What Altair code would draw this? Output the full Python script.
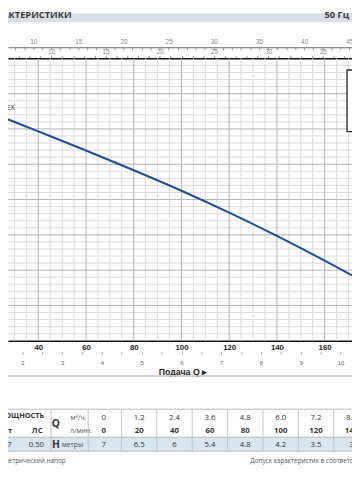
import altair as alt
import pandas as pd

# ---------------- data ----------------
curve_q = [0, 20, 24.0, 40, 60, 80, 100, 120, 140, 160, 171.5]
curve_h = [7.0, 6.47, 6.36, 5.93, 5.39, 4.83, 4.25, 3.63, 2.97, 2.27, 1.85]

table_q_lmin = [0, 20, 40, 60, 80, 100, 120, 140]
table_q_m3h = ["0", "1.2", "2.4", "3.6", "4.8", "6.0", "7.2", "8.4"]
table_q_lmin_txt = ["0", "20", "40", "60", "80", "100", "120", "140"]
table_h = ["7", "6.5", "6", "5.4", "4.8", "4.2", "3.5", "3"]
power_kw = "0.37"
power_hp = "0.50"

lmin_ticks = [40, 60, 80, 100, 120, 140, 160]
m3h_ticks = [1.5, 2, 2.5, 3, 3.5, 4, 4.5, 5, 5.5, 6, 6.5, 7, 7.5, 8, 8.5, 9, 9.5, 10]
usgpm_labels = [10, 15, 20, 25, 30, 35, 40, 45]
usgpm_minor = list(range(8, 46))
impgpm_ticks = list(range(7, 38))

model_name = "TOP 2-VORTEX"
header_title = "КРИВЫЕ И РАБОЧИЕ ХАРАКТЕРИСТИКИ"
header_freq = "50 Гц"
x_title = "Подача Q  ▸"
note_left = "H = Общий манометрический напор"
note_right = "Допуск характеристик в соответствии с EN ISO 9906 Прил. A"

# ---------------- layout ----------------
W, HGT = 352, 289
Q_DOM = [27.30, 171.47]
H_DOM = [0, 8]
FONT = "Open Sans"
AFONT = "Liberation Sans"

xs = alt.Scale(domain=Q_DOM, nice=False, zero=False)
ys = alt.Scale(domain=H_DOM, nice=False, zero=False)
xaxis = alt.Axis(values=lmin_ticks, ticks=False, grid=False, domainColor="#111",
                 domainWidth=1.6, labelFont=AFONT, labelFontWeight="bold",
                 labelFontSize=8, labelColor="#222", labelPadding=3, title=None,
                 labelFlush=False)


def X(f):
    return alt.X(f, type="quantitative", scale=xs, axis=xaxis)


def Y(f):
    return alt.Y(f, type="quantitative", scale=ys, axis=None)


gv = pd.DataFrame({"q": [30 + 5 * i for i in range(29)]})
gv["major"] = gv["q"] % 20 == 0
gh = pd.DataFrame({"h": [round(0.2 * i, 1) for i in range(1, 40)]})
gh["major"] = (gh["h"] - gh["h"].round()).abs() < 1e-6

grid_v_minor = alt.Chart(gv[~gv.major]).mark_rule(color="#dadada", strokeWidth=1).encode(x=X("q"))
grid_h_minor = alt.Chart(gh[~gh.major]).mark_rule(color="#dadada", strokeWidth=1).encode(y=Y("h"))
grid_v_major = alt.Chart(gv[gv.major]).mark_rule(color="#b2b2b2", strokeWidth=1).encode(x=X("q"))
grid_h_major = alt.Chart(gh[gh.major]).mark_rule(color="#b2b2b2", strokeWidth=1).encode(y=Y("h"))

legend_box = alt.Chart(pd.DataFrame({"q0": [169.4], "q1": [200], "h0": [7.668], "h1": [5.924]})).mark_rect(
    fill="white", stroke="#2b2b2b", strokeWidth=1.4, clip=True
).encode(x=X("q0"), x2="q1", y=Y("h0"), y2="h1")

curve = alt.Chart(pd.DataFrame({"q": curve_q, "h": curve_h})).mark_line(
    color="#1f4f9a", strokeWidth=2.1, clip=True, interpolate="monotone"
).encode(x=X("q"), y=Y("h"))

label = alt.Chart(pd.DataFrame({"q": [30.17], "h": [6.59], "t": [model_name]})).mark_text(
    align="right", baseline="middle", fontSize=6.5, font=AFONT, color="#333"
).encode(x=X("q"), y=Y("h"), text="t:N")

main = alt.layer(grid_h_minor, grid_v_minor, grid_h_major, grid_v_major, legend_box, curve, label)


def axis_layer(domain, axis):
    return alt.Chart(pd.DataFrame({"v": [domain[0]]})).mark_point(opacity=0).encode(
        x=alt.X("v:Q", scale=alt.Scale(domain=domain, nice=False, zero=False), axis=axis)
    )


m3h_dom = [Q_DOM[0] * 0.06, Q_DOM[1] * 0.06]
us_dom = [Q_DOM[0] / 3.785411784, Q_DOM[1] / 3.785411784]
imp_dom = [Q_DOM[0] / 4.54609, Q_DOM[1] / 4.54609]

m3h_layer = axis_layer(m3h_dom, alt.Axis(
    orient="bottom", offset=11, values=m3h_ticks, domain=False, ticks=True, tickSize=3,
    tickColor="#999", tickWidth=0.8,
    labelExpr="datum.value % 1 === 0 ? format(datum.value, 'd') : ''",
    labelFont=AFONT, labelFontSize=6, labelColor="#666", labelPadding=5, grid=False,
    labelOverlap=False, title=x_title, titleFont=AFONT, titleFontSize=9, titleFontWeight="bold",
    titleColor="#222", titleX=178.5, titleY=21, titleBaseline="middle"))

us_lbl = axis_layer(us_dom, alt.Axis(
    orient="top", offset=11.3, values=usgpm_labels, domain=True, domainColor="#555",
    domainWidth=0.9, ticks=False, labelFont=AFONT, labelFontSize=6.5, labelColor="#888",
    labelPadding=2.5, grid=False, title=None, labelOverlap=False))

us_tick = axis_layer(us_dom, alt.Axis(
    orient="top", offset=8.8, values=usgpm_minor, domain=False, ticks=True, tickSize=2.5,
    tickColor="#777", tickWidth=0.8, labels=False, grid=False, title=None))

imp_layer = axis_layer(imp_dom, alt.Axis(
    orient="top", offset=0, values=impgpm_ticks, domain=True, domainColor="#111",
    domainWidth=1.6, ticks=True, tickSize=3, tickColor="#777", tickWidth=0.8,
    labelExpr="datum.value % 5 === 0 ? datum.label : ''", labelFont=AFONT,
    labelFontSize=6.5, labelColor="#888", labelPadding=1, grid=False, title=None,
    labelOverlap=False))

# ---------------- table (own scales) ----------------
TX_DOM = [-54.14, 140.33]
TY_DOM = [-26.264, -5.621]
txs = alt.Scale(domain=TX_DOM, nice=False, zero=False)
tys = alt.Scale(domain=TY_DOM, nice=False, zero=False, range=[0, HGT])


def TX(f):
    return alt.X(f, type="quantitative", scale=txs, axis=None)


def TY(f):
    return alt.Y(f, type="quantitative", scale=tys, axis=None)


band = alt.Chart(pd.DataFrame({"x0": [TX_DOM[0]], "x1": [TX_DOM[1]], "y0": [1.43], "y1": [2.45]})).mark_rect(
    fill="#d8e6f0").encode(x=TX("x0"), x2="x1", y=TY("y0"), y2="y1")

hl = pd.DataFrame({"x0": [TX_DOM[0]] * 3, "x1": [TX_DOM[1]] * 3, "y": [-0.62, 1.43, 2.45]})
hlines = alt.Chart(hl).mark_rule(color="#b8b8b8", strokeWidth=1).encode(x=TX("x0"), x2="x1", y=TY("y"))
vl = pd.DataFrame({"x": [-29.8, -8.8, 10, 30, 50, 70, 90, 110, 130]})
vl["y0"] = -0.62
vl["y1"] = 2.45
vlines = alt.Chart(vl).mark_rule(color="#c4c4c4", strokeWidth=1).encode(x=TX("x"), y=TY("y0"), y2="y1")

vals_n = pd.DataFrame({
    "x": table_q_lmin * 2,
    "y": [0] * 8 + [2] * 8,
    "t": table_q_m3h + table_h,
})
vals_b = pd.DataFrame({"x": table_q_lmin, "y": [1] * 8, "t": table_q_lmin_txt})
val_txt = alt.Chart(vals_n).mark_text(fontSize=8, font=FONT, color="#333", baseline="middle").encode(
    x=TX("x"), y=TY("y"), text="t:N")
valb_txt = alt.Chart(vals_b).mark_text(fontSize=8, font=FONT, fontWeight="bold", color="#333",
                                       baseline="middle").encode(x=TX("x"), y=TY("y"), text="t:N")

lab_r = pd.DataFrame({"x": [-33.7], "y": [-0.15], "t": ["МОЩНОСТЬ"]})
labr_txt = alt.Chart(lab_r).mark_text(fontSize=7.5, font=FONT, fontWeight="bold", color="#333",
                                      align="right", baseline="middle").encode(
    x=TX("x"), y=TY("y"), text="t:N")
lab_c = pd.DataFrame({"x": [-55.8, -37.6], "y": [1, 1], "t": ["кВт", "ЛС"]})
labc_txt = alt.Chart(lab_c).mark_text(fontSize=8, font=FONT, fontWeight="bold", color="#333",
                                      baseline="middle").encode(x=TX("x"), y=TY("y"), text="t:N")

pw = pd.DataFrame({"x": [-56.4, -38.1], "y": [2, 2], "t": [power_kw, power_hp]})
pw_txt = alt.Chart(pw).mark_text(fontSize=8, font=FONT, color="#333", baseline="middle").encode(
    x=TX("x"), y=TY("y"), text="t:N")

qh = pd.DataFrame({"x": [-27.1, -27.1], "y": [0.5, 2], "t": ["Q", "H"]})
qh_txt = alt.Chart(qh).mark_text(fontSize=10.5, font=FONT, fontWeight="bold", color="#333",
                                 baseline="middle").encode(x=TX("x"), y=TY("y"), text="t:N")

un = pd.DataFrame({"x": [-18.8, -19.1, -23.8], "y": [0, 1, 2], "t": ["м³/ч.", "л/мин.", "метры"]})
un_txt = alt.Chart(un).mark_text(fontSize=7, font=FONT, color="#555", align="left",
                                 baseline="middle").encode(x=TX("x"), y=TY("y"), text="t:N")

table = alt.layer(band, hlines, vlines, val_txt, valb_txt, labr_txt, labc_txt, pw_txt, qh_txt, un_txt)

# ---------------- page decorations ----------------
one = pd.DataFrame({"a": [0]})
head_band = alt.Chart(one).mark_rect(fill="#d7e0e7").encode(
    x=alt.value(0), x2=alt.value(W), y=alt.value(-46), y2=alt.value(-37))
head_l = alt.Chart(one).mark_text(text=header_title, align="right", baseline="middle", fontSize=9.5,
                                  font=FONT, fontWeight="bold", color="#3a3a3a").encode(
    x=alt.value(65), y=alt.value(-44))
head_r = alt.Chart(one).mark_text(text=header_freq, align="right", baseline="middle", fontSize=9.5,
                                  font=FONT, fontWeight="bold", color="#3a3a3a").encode(
    x=alt.value(349), y=alt.value(-44))
sep = alt.Chart(one).mark_rule(color="#c0c0c0", strokeWidth=1.5).encode(
    x=alt.value(0), x2=alt.value(W), y=alt.value(325))
note_l = alt.Chart(one).mark_text(text=note_left, align="right", baseline="middle", fontSize=6.5,
                                  font=FONT, color="#555").encode(x=alt.value(59), y=alt.value(412))
note_r = alt.Chart(one).mark_text(text=note_right, align="left", baseline="middle", fontSize=6.5,
                                  font=FONT, color="#555").encode(x=alt.value(248), y=alt.value(412))
deco = alt.layer(head_band, head_l, head_r, sep, note_l, note_r)

chart = alt.layer(main, m3h_layer, us_lbl, us_tick, imp_layer, table, deco).resolve_scale(
    x="independent", y="independent"
).properties(
    width=W, height=HGT,
    padding={"left": 0, "top": 46, "right": 0, "bottom": 137},
    autosize=alt.AutoSizeParams(type="none"),
).configure_view(stroke=None)

chart.save("out.html", embed_options={"renderer": "svg", "actions": False})
